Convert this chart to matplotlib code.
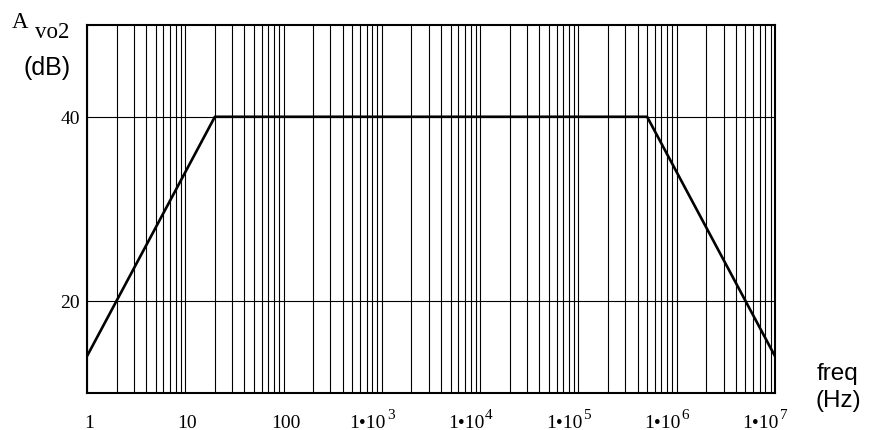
import matplotlib
matplotlib.use("Agg")
import matplotlib.pyplot as plt
from matplotlib.transforms import blended_transform_factory

# Asymptotic Bode gain of the second stage
FREQ = [1, 20, 5e5, 1e7]
GAIN_DB = [14, 40, 40, 14]

X_TICKS = [1, 10, 100, 1e3, 1e4, 1e5, 1e6, 1e7]
X_BASES = ["1", "10", "100", "1•10", "1•10", "1•10", "1•10", "1•10"]
X_EXPS = ["", "", "", "3", "4", "5", "6", "7"]
Y_TICKS = [20, 40]
Y_LABELS = ["20", "40"]

SERIF = "Liberation Serif"
SANS = "Liberation Sans"
W, H = 878, 431

fig = plt.figure(figsize=(W / 100, H / 100), dpi=100)
ax = fig.add_axes([87 / W, 1 - 394 / H, (775 - 87) / W, (394 - 25.7) / H])

ax.set_xscale("log")
ax.set_xlim(1, 1e7)
ax.set_ylim(10, 50)

ax.plot(FREQ, GAIN_DB, color="black", lw=1.9, zorder=3)

ax.grid(which="both", axis="x", color="black", lw=0.8)
ax.set_yticks(Y_TICKS)
ax.set_yticklabels(Y_LABELS, family=SERIF, fontsize=14)
ax.grid(which="major", axis="y", color="black", lw=0.8)
ax.tick_params(axis="both", which="both", length=0)
ax.tick_params(axis="y", pad=5)

# x tick labels by hand: "1•10" with a big raised exponent, like the original
ax.set_xticks(X_TICKS)
ax.set_xticklabels([])
trans = blended_transform_factory(ax.transData, ax.transAxes)
for val, base, ex in zip(X_TICKS, X_BASES, X_EXPS):
    if ex:
        ax.annotate(base, xy=(val, 0), xycoords=trans, xytext=(4, -34),
                    textcoords="offset pixels", ha="right", va="baseline",
                    family=SERIF, fontsize=14)
        ax.annotate(ex, xy=(val, 0), xycoords=trans, xytext=(5, -25),
                    textcoords="offset pixels", ha="left", va="baseline",
                    family=SERIF, fontsize=11)
    else:
        ax.annotate(base, xy=(val, 0), xycoords=trans, xytext=(2, -34),
                    textcoords="offset pixels", ha="center", va="baseline",
                    family=SERIF, fontsize=14)

for sp in ax.spines.values():
    sp.set_linewidth(1.5)
    sp.set_color("black")

fig.text(12 / W, 1 - 28 / H, "A", family=SERIF, fontsize=16.5, va="baseline")
fig.text(35 / W, 1 - 38 / H, "vo2", family=SERIF, fontsize=16.5, va="baseline")
fig.text(47 / W, 1 - 68 / H, "(dB)", family=SANS, fontsize=18,
         ha="center", va="center")
fig.text(838 / W, 1 - 374 / H, "freq", family=SANS, fontsize=17.5,
         ha="center", va="center")
fig.text(838 / W, 1 - 401 / H, "(Hz)", family=SANS, fontsize=17.5,
         ha="center", va="center")

fig.savefig("out.png", dpi=100)
